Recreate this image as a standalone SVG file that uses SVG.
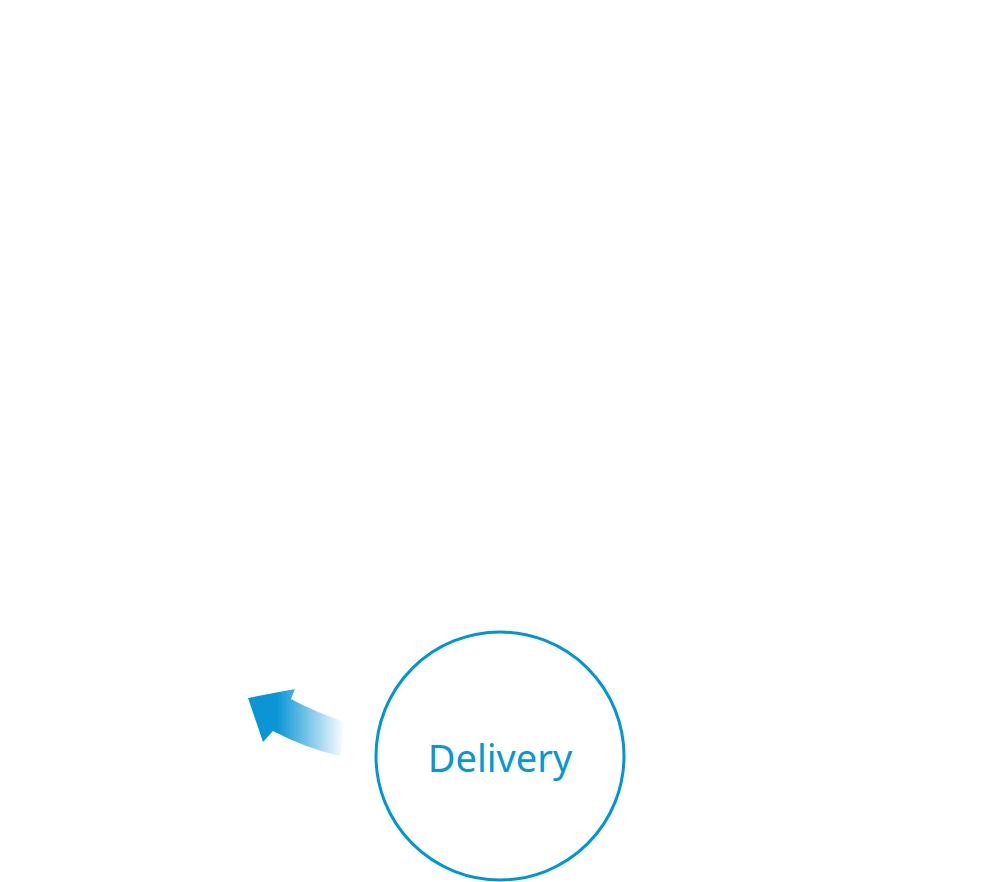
<svg xmlns="http://www.w3.org/2000/svg" width="998" height="882" viewBox="0 0 998 882">
<style>.lbl{font-family:"Source Sans Pro","Noto Sans","Liberation Sans",sans-serif;font-size:38px;fill:#0a96d6;text-anchor:middle}</style>
<defs><linearGradient id="g" x1="248" y1="0" x2="345" y2="0" gradientUnits="userSpaceOnUse"><stop offset="0.3" stop-color="#0a96d6"/><stop offset="1" stop-color="#0a96d6" stop-opacity="0"/></linearGradient></defs>
<rect width="998" height="882" fill="#fff"/>
<g id="connectors"><path d="M345,722 Q315,712 291,699 L295,689 L248,698 L263,742 L273,731 Q305,748 340,756 Z" fill="url(#g)"/></g>
<g id="delivery"><circle cx="500" cy="756" r="124" fill="none" stroke="#0096d6" stroke-width="3"/><text class="lbl" x="500" y="772">Delivery</text></g>
</svg>
